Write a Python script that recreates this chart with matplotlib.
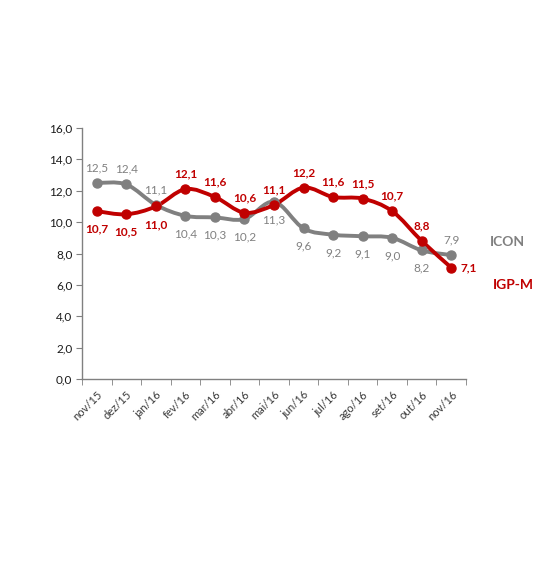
import matplotlib
matplotlib.use("Agg")
import matplotlib.pyplot as plt
from matplotlib.path import Path
from matplotlib.patches import PathPatch
import numpy as np

months = ["nov/15", "dez/15", "jan/16", "fev/16", "mar/16", "abr/16", "mai/16",
          "jun/16", "jul/16", "ago/16", "set/16", "out/16", "nov/16"]
icon = [12.5, 12.4, 11.1, 10.4, 10.3, 10.2, 11.3, 9.6, 9.2, 9.1, 9.0, 8.2, 7.9]
igpm = [10.7, 10.5, 11.0, 12.1, 11.6, 10.6, 11.1, 12.2, 11.6, 11.5, 10.7, 8.8, 7.1]
icon_pos = ["a", "a", "a", "b", "b", "b", "b", "b", "b", "b", "b", "b", "a"]
igpm_pos = ["b", "b", "b", "a", "a", "a", "a", "a", "a", "a", "a", "a", "r"]
yticks = [0, 2, 4, 6, 8, 10, 12, 14, 16]

GRAY = "#808080"
RED = "#C00000"
FONT = ["Lato", "DejaVu Sans"]

fig = plt.figure(figsize=(5.58, 5.73), dpi=100)
ax = fig.add_axes([82/558, 194/573, 384/558, 251/573])


def smooth_path(x, y):
    x = np.asarray(x, float)
    y = np.asarray(y, float)
    n = len(x)
    P = np.column_stack([x, y])
    verts = [P[0]]
    codes = [Path.MOVETO]
    for i in range(n - 1):
        p0 = P[max(i - 1, 0)]
        p1 = P[i]
        p2 = P[i + 1]
        p3 = P[min(i + 2, n - 1)]
        c1 = p1 + (p2 - p0) / 6.0
        c2 = p2 - (p3 - p1) / 6.0
        verts += [c1, c2, p2]
        codes += [Path.CURVE4] * 3
    return Path(verts, codes)


xs = np.arange(len(months))
for vals, col in [(icon, GRAY), (igpm, RED)]:
    ax.add_patch(PathPatch(smooth_path(xs, vals), facecolor="none", edgecolor=col,
                           lw=2.8, capstyle="round", joinstyle="round", zorder=3))
    ax.plot(xs, vals, "o", color=col, ms=6.5, zorder=4)


def fmt(v):
    return f"{v:.1f}".replace(".", ",")


for vals, pos, col, bold in [(icon, icon_pos, GRAY, False), (igpm, igpm_pos, RED, True)]:
    for x, v, p in zip(xs, vals, pos):
        if p == "a":
            off, ha, va = (0, 7), "center", "bottom"
        elif p == "b":
            off, ha, va = (0, -9), "center", "top"
        else:
            off, ha, va = (7, 0), "left", "center"
        ax.annotate(fmt(v), (x, v), xytext=off, textcoords="offset points",
                    ha=ha, va=va, color=col, fontsize=8.5, family=FONT,
                    fontweight="bold" if bold else "normal", zorder=5)

ax.text(12.0 + 1.3, icon[-1] + 0.85, "ICON", color=GRAY, fontsize=10, fontweight="bold",
        family=FONT, ha="left", va="center", clip_on=False)
ax.text(12.0 + 1.4, igpm[-1] - 1.1, "IGP-M", color=RED, fontsize=10, fontweight="bold",
        family=FONT, ha="left", va="center", clip_on=False)

ax.set_xlim(-0.5, len(months) - 0.5)
ax.set_ylim(0, 16)
ax.set_yticks(yticks)
ax.set_yticklabels([fmt(v) for v in yticks], family=FONT, fontsize=8.5, color="#1a1a1a")
ax.set_xticks(xs)
ax.set_xticklabels(months, rotation=45, ha="right", rotation_mode="anchor",
                   family=FONT, fontsize=8, color="#3a3a3a")
ax.set_xticks(np.arange(-0.5, len(months)), minor=True)
ax.tick_params(axis="x", which="major", length=0, pad=7)
ax.tick_params(axis="x", which="minor", length=4, color=GRAY, direction="out")
ax.tick_params(axis="y", length=4, color=GRAY, direction="out", pad=3)
for s in ["top", "right"]:
    ax.spines[s].set_visible(False)
for s in ["left", "bottom"]:
    ax.spines[s].set_color(GRAY)
    ax.spines[s].set_linewidth(1.0)

fig.savefig("out.png", dpi=100, facecolor="white")
